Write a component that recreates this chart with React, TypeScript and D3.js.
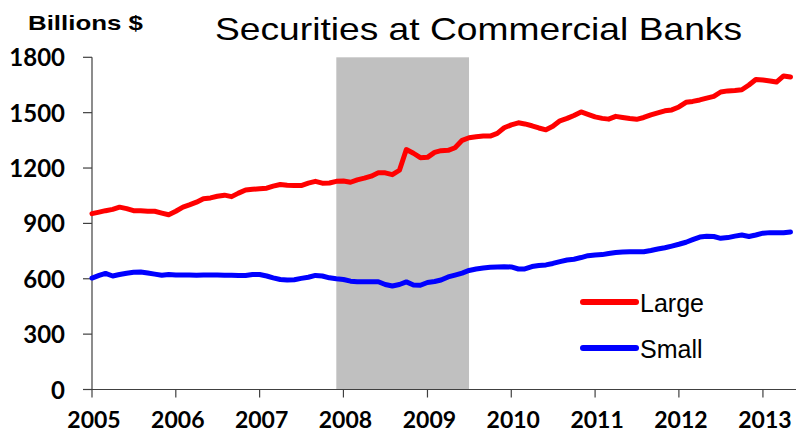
import { useMemo } from 'react';
import * as d3 from 'd3';

// monthly, Jan 2005 .. May 2013 (billions $)
const largeBanks = [
  953, 961, 969, 976, 988, 980, 969, 968, 966, 966, 956, 947,
  966, 988, 1000, 1015, 1034, 1038, 1047, 1053, 1045, 1064, 1081, 1085,
  1088, 1091, 1102, 1111, 1107, 1105, 1105, 1118, 1128, 1118, 1119, 1128,
  1130, 1123, 1136, 1145, 1156, 1174, 1174, 1164, 1188, 1300, 1280, 1256,
  1258, 1285, 1294, 1296, 1310, 1350, 1364, 1369, 1373, 1373, 1388, 1418,
  1434, 1445, 1439, 1429, 1417, 1407, 1426, 1456, 1469, 1485, 1504, 1491,
  1477, 1469, 1465, 1480, 1474, 1468, 1464, 1474, 1488, 1499, 1510, 1515,
  1531, 1556, 1561, 1569, 1579, 1588, 1612, 1618, 1620, 1624, 1650, 1680,
  1677, 1672, 1666, 1699, 1693,
];

const smallBanks = [
  604, 618, 629, 615, 623, 630, 635, 637, 631, 625, 619, 623,
  620, 620, 620, 619, 620, 620, 620, 619, 619, 618, 618, 623,
  623, 615, 605, 596, 593, 595, 602, 608, 618, 615, 605, 600,
  596, 587, 584, 584, 584, 584, 569, 561, 569, 583, 566, 565,
  580, 585, 593, 610, 620, 631, 645, 653, 658, 662, 664, 665,
  664, 653, 653, 666, 672, 675, 683, 693, 702, 706, 715, 725,
  729, 731, 737, 742, 745, 746, 746, 746, 753, 761, 768, 777,
  787, 798, 812, 826, 830, 829, 819, 823, 831, 837, 829, 837,
  847, 850, 849, 849, 853,
];

const yTicks = [0, 300, 600, 900, 1200, 1500, 1800];
const xYears = [2005, 2006, 2007, 2008, 2009, 2010, 2011, 2012, 2013];
const recession = [new Date(Date.UTC(2007, 11, 1)), new Date(Date.UTC(2009, 6, 1))];

const seriesNames = ['Large', 'Small'];
const seriesColors = ['#ff0000', '#0000ff'];

const width = 796;
const height = 435;

const tickFont = 'Lato, "Open Sans", sans-serif';
const arial = '"Liberation Sans", Arial, sans-serif';

export default function App() {
  const dates = useMemo(
    () => largeBanks.map((_, i) => new Date(Date.UTC(2005, i, 1))),
    []
  );

  const x = d3
    .scaleUtc()
    .domain([new Date(Date.UTC(2005, 0, 1)), new Date(Date.UTC(2013, 4, 25))])
    .range([92, 796]);

  const y = d3.scaleLinear().domain([0, 1800]).range([389.5, 57.3]);

  const line = d3
    .line<number>()
    .x((_, i) => x(dates[i]))
    .y((d) => y(d));

  const x0 = x.range()[0];
  const x1 = x.range()[1];

  return (
    <svg
      width={width}
      height={height}
      style={{ position: 'absolute', left: 0, top: 0, background: '#fff' }}
    >
      {/* recession shading */}
      <rect
        x={x(recession[0])}
        y={y(1800)}
        width={x(recession[1]) - x(recession[0])}
        height={y(0) - y(1800)}
        fill='#c0c0c0'
      />

      {/* y axis */}
      <line x1={x0} x2={x0} y1={y(1800)} y2={y(0)} stroke='#404040' strokeWidth={1.2} />
      {yTicks.map((t) => (
        <g key={t}>
          <line x1={x0 - 9} x2={x0} y1={y(t)} y2={y(t)} stroke='#404040' strokeWidth={1.2} />
          <text
            x={65}
            y={y(t) + 9}
            textAnchor='end'
            fontFamily={tickFont}
            fontWeight='bold'
            fontSize={24}
            fill='#000'
          >
            {t}
          </text>
        </g>
      ))}

      {/* x axis */}
      <line x1={x0} x2={x1} y1={y(0)} y2={y(0)} stroke='#404040' strokeWidth={1.2} />
      {xYears.map((yr) => {
        const px = x(new Date(Date.UTC(yr, 0, 1)));
        return (
          <g key={yr}>
            <line x1={px} x2={px} y1={y(0)} y2={y(0) + 8} stroke='#404040' strokeWidth={1.2} />
            <text
              x={px + 2}
              y={428}
              textAnchor='middle'
              fontFamily={tickFont}
              fontWeight='bold'
              fontSize={23}
              fill='#000'
            >
              {yr}
            </text>
          </g>
        );
      })}

      {/* series */}
      {[smallBanks, largeBanks].map((vals, k) => (
        <path
          key={k}
          d={line(vals) ?? ''}
          fill='none'
          stroke={k === 0 ? seriesColors[1] : seriesColors[0]}
          strokeWidth={5}
          strokeLinejoin='round'
          strokeLinecap='round'
        />
      ))}

      {/* titles */}
      <text
        x={215}
        y={40}
        fontFamily={arial}
        fontSize={32}
        textLength={527}
        lengthAdjust='spacingAndGlyphs'
        fill='#000'
      >
        Securities at Commercial Banks
      </text>
      <text
        x={28}
        y={30}
        fontFamily={arial}
        fontWeight='bold'
        fontSize={21}
        textLength={115}
        lengthAdjust='spacingAndGlyphs'
        fill='#000'
      >
        Billions $
      </text>

      {/* legend */}
      {seriesNames.map((name, i) => (
        <g key={name} transform={`translate(0,${302 + i * 46})`}>
          <line x1={583} x2={636} y1={0} y2={0} stroke={seriesColors[i]} strokeWidth={6} strokeLinecap='round' />
          <text x={640} y={10} fontFamily={arial} fontSize={25} fill='#000'>
            {name}
          </text>
        </g>
      ))}
    </svg>
  );
}
